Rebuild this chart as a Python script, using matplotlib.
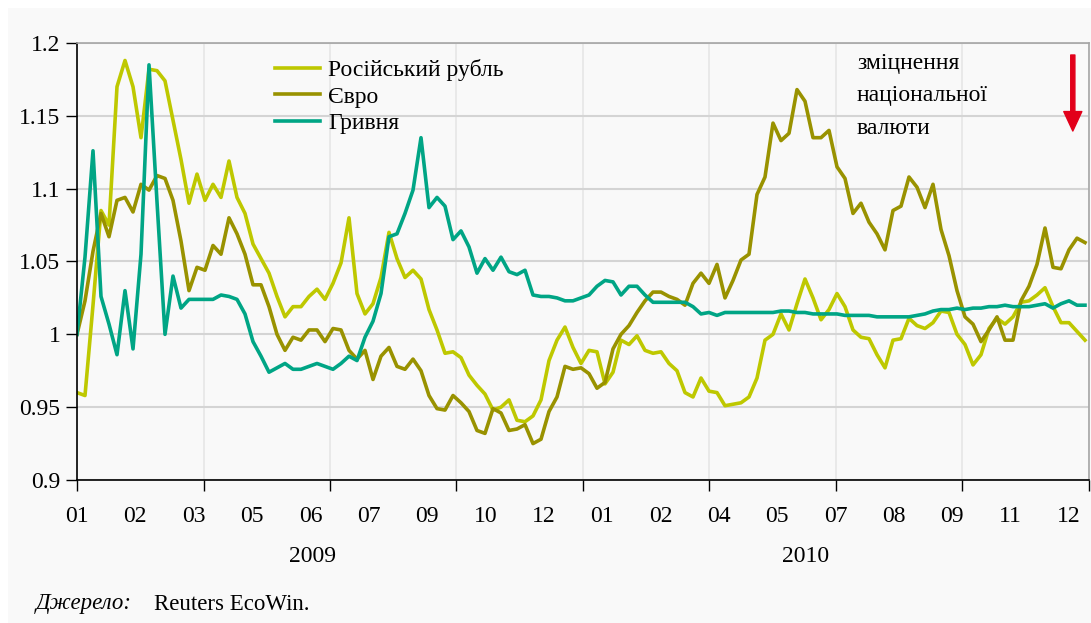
import matplotlib
matplotlib.use('Agg')
import matplotlib.pyplot as plt
import matplotlib.patches as patches
import numpy as np

plt.rcParams['font.family'] = ['Liberation Serif', 'DejaVu Serif']

# weekly-ish readings, Jan 2009 .. Dec 2010 (index = sample number)
rouble = [0.960, 0.958, 1.020, 1.085, 1.075, 1.170, 1.188, 1.170, 1.135, 1.182, 1.181, 1.174, 1.147, 1.120, 1.090, 1.110, 1.092, 1.103, 1.094, 1.119, 1.094, 1.083,
          1.062, 1.052, 1.042, 1.026, 1.012, 1.019, 1.019, 1.026, 1.031, 1.024, 1.035, 1.049, 1.080, 1.028, 1.014, 1.021, 1.039, 1.070, 1.052, 1.039, 1.044,
          1.038, 1.017, 1.003, 0.987, 0.988, 0.984, 0.972, 0.965, 0.959, 0.948, 0.950, 0.955, 0.941, 0.940, 0.944, 0.955, 0.982, 0.996, 1.005, 0.991, 0.980,
          0.989, 0.988, 0.966, 0.974, 0.996, 0.993, 0.999, 0.989, 0.987, 0.988, 0.980, 0.975, 0.960, 0.957, 0.970, 0.961, 0.960, 0.951, 0.952, 0.953, 0.957,
          0.970, 0.996, 1.000, 1.014, 1.003, 1.021, 1.038, 1.025, 1.010, 1.017, 1.028, 1.019, 1.003, 0.998, 0.997, 0.986, 0.977, 0.996, 0.997, 1.011, 1.006,
          1.004, 1.008, 1.016, 1.015, 1.000, 0.993, 0.979, 0.986, 1.004, 1.011, 1.007, 1.012, 1.022, 1.023, 1.027, 1.032, 1.019, 1.008, 1.008, 1.002, 0.996]

euro = [1.000, 1.023, 1.057, 1.083, 1.067, 1.092, 1.094, 1.084, 1.103, 1.099, 1.109, 1.107, 1.092, 1.064, 1.030, 1.046, 1.044, 1.061, 1.055, 1.080, 1.069, 1.055,
        1.034, 1.034, 1.019, 1.000, 0.989, 0.998, 0.996, 1.003, 1.003, 0.995, 1.004, 1.003, 0.989, 0.983, 0.989, 0.969, 0.985, 0.991, 0.978, 0.976, 0.983,
        0.975, 0.958, 0.949, 0.948, 0.958, 0.953, 0.947, 0.934, 0.932, 0.949, 0.946, 0.934, 0.935, 0.938, 0.925, 0.928, 0.947, 0.957, 0.978, 0.976, 0.977,
        0.973, 0.963, 0.967, 0.990, 1.000, 1.006, 1.015, 1.023, 1.029, 1.029, 1.026, 1.024, 1.020, 1.035, 1.042, 1.035, 1.048, 1.025, 1.037, 1.051, 1.055,
        1.096, 1.108, 1.145, 1.133, 1.138, 1.168, 1.160, 1.135, 1.135, 1.140, 1.115, 1.107, 1.083, 1.090, 1.077, 1.069, 1.058, 1.085, 1.088, 1.108, 1.101,
        1.087, 1.103, 1.072, 1.054, 1.030, 1.012, 1.007, 0.995, 1.003, 1.012, 0.996, 0.996, 1.023, 1.033, 1.048, 1.073, 1.046, 1.045, 1.058, 1.066, 1.063]

hryvnia = [1.000, 1.053, 1.126, 1.026, 1.007, 0.986, 1.030, 0.990, 1.055, 1.185, 1.091, 1.000, 1.040, 1.018, 1.024, 1.024, 1.024, 1.024, 1.027, 1.026, 1.024, 1.014,
           0.995, 0.985, 0.974, 0.977, 0.980, 0.976, 0.976, 0.978, 0.980, 0.978, 0.976, 0.980, 0.985, 0.982, 0.998, 1.009, 1.028, 1.067, 1.069, 1.083, 1.099,
           1.135, 1.087, 1.094, 1.088, 1.065, 1.071, 1.060, 1.042, 1.052, 1.044, 1.053, 1.043, 1.041, 1.044, 1.027, 1.026, 1.026, 1.025, 1.023, 1.023, 1.025,
           1.027, 1.033, 1.037, 1.036, 1.027, 1.033, 1.033, 1.027, 1.022, 1.022, 1.022, 1.022, 1.022, 1.019, 1.014, 1.015, 1.013, 1.015, 1.015, 1.015, 1.015,
           1.015, 1.015, 1.015, 1.016, 1.016, 1.015, 1.015, 1.014, 1.014, 1.014, 1.014, 1.013, 1.013, 1.013, 1.013, 1.012, 1.012, 1.012, 1.012, 1.012, 1.013,
           1.014, 1.016, 1.017, 1.017, 1.018, 1.017, 1.018, 1.018, 1.019, 1.019, 1.020, 1.019, 1.019, 1.019, 1.020, 1.021, 1.018, 1.021, 1.023, 1.020, 1.020]

series_names = ['Російський рубль', 'Євро', 'Гривня']
series_colors = ['#bec800', '#999200', '#00a585']

month_labels = ['01', '02', '03', '05', '06', '07', '09', '10', '12',
                '01', '02', '04', '05', '07', '08', '09', '11', '12']
year_labels = ['2009', '2010']
note_lines = ['зміцнення', 'національної', 'валюти']

BG = '#f9f9f9'
FS = 17

fig = plt.figure(figsize=(10.91, 6.23), dpi=100)
fig.patch.set_facecolor('white')
fig.patches.append(patches.Rectangle((8 / 1091, 0), 1, 1 - 8 / 623, transform=fig.transFigure,
                                     facecolor=BG, edgecolor='none', zorder=-10))

ax = fig.add_axes([77 / 1091, 1 - 480 / 623, 1012 / 1091, 437 / 623])
ax.set_facecolor(BG)

n = len(rouble)
x = np.arange(n)
for vals, name, col in zip([rouble, euro, hryvnia], series_names, series_colors):
    ax.plot(x, vals, color=col, lw=2.6, label=name)

xmax = n - 0.5
ax.set_xlim(0, xmax)
ax.set_ylim(0.9, 1.2)

# grid / ticks
yt = np.arange(0.9, 1.2001, 0.05)
ax.set_yticks(yt)
ax.set_yticklabels(['%g' % round(v, 2) for v in yt])
ax.yaxis.grid(True, color='#d4d4d4', lw=1.5)
ax.set_xticks(np.linspace(0, xmax, 9))
ax.set_xticklabels([])
ax.xaxis.grid(True, color='#e6e6e6', lw=1.2)
ax.set_axisbelow(True)
ax.xaxis.remove_overlapping_locs = False
ax.set_xticks(np.linspace(0, xmax * 124 / 126.5, len(month_labels)), minor=True)
ax.set_xticklabels(month_labels, minor=True)
ax.tick_params(axis='x', which='minor', length=0, pad=19, labelsize=FS)
ax.tick_params(axis='x', which='major', length=8, width=1, color='black', direction='out')
ax.tick_params(axis='y', length=8, width=1, labelsize=FS, pad=4, direction='out')

for s in ['left', 'bottom']:
    ax.spines[s].set_color('black')
    ax.spines[s].set_linewidth(1.2)
for s in ['top', 'right']:
    ax.spines[s].set_color('#a6a6a6')
    ax.spines[s].set_linewidth(1.2)

for lbl, xp in zip(year_labels, [313, 806]):
    fig.text(xp / 1091, 1 - 557 / 623, lbl, ha='center', va='center', fontsize=FS)

ax.legend(loc='upper left', bbox_to_anchor=((275 - 77) / 1012, (480 - 59) / 437),
          frameon=False, fontsize=FS, handlelength=1.9, handletextpad=0.35,
          labelspacing=0.22, borderpad=0, borderaxespad=0)

for k, line in enumerate(note_lines):
    ax.text((857 - 77) / 1012, (480 - 64 - 32 * k) / 437, line, transform=ax.transAxes,
            ha='left', va='center', fontsize=FS)

ax.annotate('', xy=(0.984, (480 - 131) / 437), xytext=(0.984, (480 - 55) / 437),
            xycoords='axes fraction', textcoords='axes fraction',
            arrowprops=dict(color='#e2001a', width=3, headwidth=13, headlength=14, shrink=0))

fig.text(36 / 1091, 1 - 604 / 623, 'Джерело:', style='italic', fontsize=FS - 0.5, va='center')
fig.text(154 / 1091, 1 - 604 / 623, 'Reuters EcoWin.', fontsize=FS - 0.5, va='center')

fig.savefig('out.png', dpi=100, facecolor=fig.get_facecolor())
